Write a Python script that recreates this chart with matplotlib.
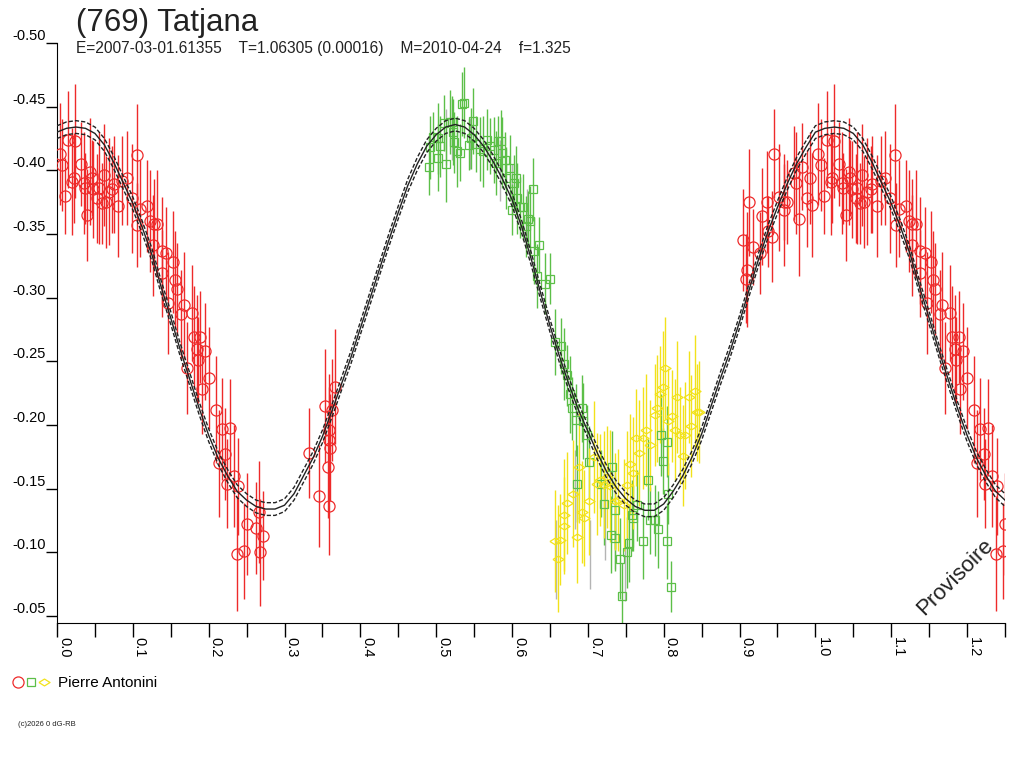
# Courbe de lumière (769) Tatjana
import numpy as np
import matplotlib
matplotlib.use('Agg')
import matplotlib.pyplot as plt
from matplotlib.ticker import MultipleLocator, FormatStrFormatter
from matplotlib.lines import Line2D
from matplotlib.legend_handler import HandlerTuple

plt.rcParams['font.family'] = ['Liberation Sans', 'DejaVu Sans']
plt.rcParams['axes.unicode_minus'] = False

TITRE = '(769) Tatjana'
SOUS_TITRE = 'E=2007-03-01.61355    T=1.06305 (0.00016)    M=2010-04-24    f=1.325'
OBSERVATEUR = 'Pierre Antonini'
COPYRIGHT = '(c)2026 0 dG-RB'
PHASE_MAX = 1.25

# Courbe ajustée (pas de 0.0125)
courbe_phase = [0.0000, 0.0125, 0.0250, 0.0375, 0.0500, 0.0625, 0.0750, 0.0875, 0.1000, 0.1125,
                0.1250, 0.1375, 0.1500, 0.1625, 0.1750, 0.1875, 0.2000, 0.2125, 0.2250, 0.2375,
                0.2500, 0.2625, 0.2750, 0.2875, 0.3000, 0.3125, 0.3250, 0.3375, 0.3500, 0.3625,
                0.3750, 0.3875, 0.4000, 0.4125, 0.4250, 0.4375, 0.4500, 0.4625, 0.4750, 0.4875,
                0.5000, 0.5125, 0.5250, 0.5375, 0.5500, 0.5625, 0.5750, 0.5875, 0.6000, 0.6125,
                0.6250, 0.6375, 0.6500, 0.6625, 0.6750, 0.6875, 0.7000, 0.7125, 0.7250, 0.7375,
                0.7500, 0.7625, 0.7750, 0.7875, 0.8000, 0.8125, 0.8250, 0.8375, 0.8500, 0.8625,
                0.8750, 0.8875, 0.9000, 0.9125, 0.9250, 0.9375, 0.9500, 0.9625, 0.9750, 0.9875,
                1.0000]
courbe_mag = [-0.430, -0.433, -0.434, -0.433, -0.429, -0.420, -0.406, -0.390, -0.374, -0.355,
              -0.334, -0.308, -0.284, -0.259, -0.236, -0.213, -0.192, -0.174, -0.160, -0.148,
              -0.141, -0.136, -0.134, -0.134, -0.137, -0.146, -0.160, -0.174, -0.191, -0.211,
              -0.232, -0.253, -0.276, -0.299, -0.322, -0.345, -0.367, -0.388, -0.405, -0.419,
              -0.428, -0.434, -0.436, -0.434, -0.428, -0.419, -0.407, -0.393, -0.377, -0.356,
              -0.331, -0.304, -0.278, -0.254, -0.232, -0.212, -0.195, -0.178, -0.163, -0.151,
              -0.142, -0.136, -0.133, -0.133, -0.138, -0.148, -0.160, -0.175, -0.193, -0.215,
              -0.237, -0.258, -0.281, -0.306, -0.330, -0.352, -0.371, -0.389, -0.405, -0.418,
              -0.430]
courbe_ecart = 0.005

# Série rouge (cercles)
rouge_phase = [0.905, 0.908, 0.910, 0.912, 0.918, 0.927, 0.930, 0.936, 0.938, 0.943, 0.946,
               0.952, 0.958, 0.958, 0.963, 0.972, 0.974, 0.979, 0.982, 0.989, 0.993, 0.996,
               0.004, 0.007, 0.011, 0.015, 0.020, 0.022, 0.024, 0.031, 0.035, 0.037, 0.040,
               0.044, 0.046, 0.048, 0.053, 0.055, 0.059, 0.062, 0.064, 0.068, 0.073, 0.075,
               0.081, 0.086, 0.092, 0.099, 0.105, 0.106, 0.110, 0.119, 0.123, 0.128, 0.132,
               0.127, 0.138, 0.144, 0.153, 0.138, 0.155, 0.158, 0.147, 0.167, 0.164, 0.178,
               0.180, 0.189, 0.184, 0.195, 0.186, 0.171, 0.200, 0.191, 0.209, 0.217, 0.228,
               0.222, 0.213, 0.233, 0.224, 0.239, 0.250, 0.238, 0.247, 0.263, 0.272, 0.268, 0.266,
               0.332, 0.345, 0.354, 0.358, 0.360, 0.357, 0.359, 0.366, 0.362, 0.358]
rouge_mag = [-0.345, -0.315, -0.322, -0.375, -0.340, -0.335, -0.364, -0.375, -0.352, -0.348, -0.413,
             -0.379, -0.375, -0.369, -0.375, -0.398, -0.390, -0.362, -0.403, -0.378, -0.394, -0.373,
             -0.413, -0.404, -0.380, -0.424, -0.391, -0.394, -0.423, -0.405, -0.390, -0.386, -0.365,
             -0.399, -0.394, -0.385, -0.378, -0.386, -0.374, -0.396, -0.375, -0.383, -0.385, -0.389,
             -0.372, -0.392, -0.394, -0.378, -0.412, -0.357, -0.370, -0.372, -0.360, -0.358, -0.358,
             -0.341, -0.337, -0.335, -0.328, -0.319, -0.314, -0.307, -0.296, -0.294, -0.287, -0.288,
             -0.269, -0.269, -0.260, -0.258, -0.251, -0.245, -0.237, -0.228, -0.212, -0.197, -0.198,
             -0.177, -0.170, -0.160, -0.154, -0.152, -0.122, -0.099, -0.101, -0.119, -0.113, -0.100, -0.132,
             -0.178, -0.144, -0.215, -0.136, -0.182, -0.167, -0.196, -0.230, -0.212, -0.188]
rouge_err = [0.040, 0.035, 0.045, 0.042, 0.030, 0.032, 0.038, 0.040, 0.028, 0.036, 0.035,
             0.042, 0.030, 0.044, 0.033, 0.037, 0.040, 0.045, 0.034, 0.038, 0.036, 0.041,
             0.040, 0.036, 0.030, 0.038, 0.042, 0.035, 0.045, 0.033, 0.040, 0.028, 0.036,
             0.042, 0.030, 0.038, 0.035, 0.044, 0.032, 0.040, 0.036, 0.042, 0.034, 0.038,
             0.040, 0.035, 0.037, 0.043, 0.040, 0.033, 0.038, 0.036, 0.040, 0.035, 0.042,
             0.040, 0.042, 0.036, 0.040, 0.034, 0.038, 0.036, 0.040, 0.042, 0.035, 0.038,
             0.040, 0.036, 0.042, 0.038, 0.034, 0.036, 0.040, 0.035, 0.042, 0.040, 0.038,
             0.036, 0.042, 0.040, 0.035, 0.038, 0.040, 0.045, 0.038, 0.036, 0.035, 0.042, 0.040,
             0.035, 0.040, 0.045, 0.038, 0.042, 0.040, 0.044, 0.045, 0.040, 0.042]

# Série verte (carrés)
vert_phase = [0.491, 0.492, 0.496, 0.503, 0.505, 0.503, 0.510, 0.513, 0.518, 0.521, 0.522,
              0.524, 0.527, 0.531, 0.534, 0.537, 0.543, 0.546, 0.549, 0.553, 0.558, 0.562,
              0.567, 0.571, 0.576, 0.579, 0.581, 0.585, 0.587, 0.591, 0.597, 0.592, 0.605,
              0.602, 0.607, 0.611, 0.600, 0.615, 0.628, 0.621, 0.624, 0.619, 0.629, 0.636,
              0.633, 0.644, 0.650,
              0.657, 0.664, 0.668, 0.672, 0.677, 0.679, 0.684, 0.692, 0.694, 0.699, 0.701,
              0.686, 0.717, 0.721, 0.732, 0.730, 0.736, 0.743, 0.751, 0.754, 0.760, 0.765,
              0.773, 0.779, 0.782, 0.789, 0.793, 0.796, 0.799, 0.804, 0.804, 0.806, 0.809,
              0.745, 0.758, 0.736]
vert_mag = [-0.403, -0.418, -0.426, -0.425, -0.419, -0.410, -0.437, -0.405, -0.438, -0.438, -0.430,
            -0.422, -0.415, -0.414, -0.452, -0.453, -0.420, -0.425, -0.439, -0.421, -0.417, -0.415,
            -0.424, -0.419, -0.416, -0.406, -0.423, -0.423, -0.414, -0.408, -0.402, -0.394, -0.394,
            -0.390, -0.378, -0.371, -0.369, -0.371, -0.385, -0.362, -0.360, -0.356, -0.337, -0.341,
            -0.317, -0.311, -0.315,
            -0.265, -0.262, -0.248, -0.239, -0.224, -0.213, -0.204, -0.213, -0.203, -0.192, -0.171,
            -0.154, -0.154, -0.138, -0.167, -0.114, -0.111, -0.095, -0.100, -0.107, -0.127, -0.137,
            -0.109, -0.157, -0.125, -0.125, -0.118, -0.192, -0.172, -0.187, -0.109, -0.146, -0.073,
            -0.066, -0.129, -0.133]
vert_err = [0.022, 0.025, 0.020, 0.028, 0.024, 0.026, 0.022, 0.030, 0.025, 0.020, 0.026,
            0.024, 0.028, 0.022, 0.025, 0.028, 0.020, 0.024, 0.026, 0.022, 0.025, 0.028,
            0.024, 0.022, 0.026, 0.025, 0.020, 0.024, 0.028, 0.022, 0.026, 0.024, 0.025,
            0.022, 0.028, 0.024, 0.020, 0.026, 0.025, 0.022, 0.028, 0.024, 0.026, 0.022,
            0.025, 0.024, 0.020,
            0.026, 0.022, 0.028, 0.024, 0.030, 0.025, 0.028, 0.026, 0.030, 0.024, 0.028,
            0.030, 0.026, 0.032, 0.028, 0.030, 0.026, 0.032, 0.028, 0.030, 0.026, 0.028,
            0.030, 0.032, 0.026, 0.028, 0.030, 0.032, 0.026, 0.028, 0.030, 0.024, 0.020,
            0.026, 0.028, 0.030]

# Série jaune (losanges)
jaune_phase = [0.657, 0.660, 0.663, 0.668, 0.669, 0.673, 0.681, 0.685, 0.688, 0.692, 0.695,
               0.701, 0.708, 0.712, 0.716, 0.721, 0.725, 0.729, 0.736, 0.740, 0.748, 0.752,
               0.755, 0.759, 0.763, 0.768, 0.773, 0.777, 0.782, 0.789, 0.791, 0.795, 0.799,
               0.802, 0.806, 0.811, 0.815, 0.817, 0.822, 0.825, 0.828, 0.833, 0.836, 0.841,
               0.844, 0.847]
jaune_mag = [-0.109, -0.095, -0.110, -0.129, -0.121, -0.139, -0.146, -0.112, -0.167, -0.132, -0.127,
             -0.140, -0.175, -0.154, -0.157, -0.153, -0.159, -0.152, -0.140, -0.141, -0.137, -0.153,
             -0.169, -0.162, -0.190, -0.178, -0.190, -0.196, -0.184, -0.208, -0.213, -0.224, -0.230,
             -0.245, -0.203, -0.207, -0.196, -0.222, -0.192, -0.176, -0.192, -0.222, -0.199, -0.227,
             -0.210, -0.210]
jaune_err = [0.040, 0.042, 0.036, 0.044, 0.038, 0.040, 0.042, 0.036, 0.044, 0.040, 0.038,
             0.042, 0.044, 0.040, 0.036, 0.042, 0.040, 0.044, 0.038, 0.040, 0.036, 0.042,
             0.040, 0.044, 0.038, 0.042, 0.040, 0.044, 0.036, 0.040, 0.042, 0.038, 0.044,
             0.040, 0.042, 0.036, 0.040, 0.044, 0.038, 0.040, 0.042, 0.036, 0.040, 0.044,
             0.038, 0.040]

# Barres grises
gris_phase = [0.513, 0.521, 0.545, 0.584, 0.600, 0.620, 0.658, 0.683, 0.703, 0.723, 0.736, 0.749]
gris_mag = [-0.426, -0.432, -0.421, -0.400, -0.385, -0.363, -0.094, -0.149, -0.098, -0.125, -0.114, -0.086]
gris_err = [0.022, 0.024, 0.020, 0.024, 0.020, 0.022, 0.031, 0.031, 0.027, 0.031, 0.027, 0.024]

# Losange aplati comme sur l'original
LOSANGE = [(-1, 0), (0, 0.62), (1, 0), (0, -0.62), (-1, 0)]


# Répète les phases sur [0, PHASE_MAX]
def replier(phase, mag, err):
    phase = np.asarray(phase)
    p = np.concatenate([phase, phase + 1])
    m = np.concatenate([mag, mag])
    e = np.concatenate([err, err])
    garde = p <= PHASE_MAX
    return p[garde], m[garde], e[garde]


def tracer(ax, phase, mag, err, couleur, marqueur, taille):
    p, m, e = replier(phase, mag, err)
    ax.errorbar(p, m, yerr=e, fmt='none', ecolor=couleur, elinewidth=1.0, capsize=0, zorder=2)
    ax.plot(p, m, ls='none', marker=marqueur, ms=taille, mfc='none', mec=couleur, mew=0.9, zorder=3)


fig = plt.figure(figsize=(10.24, 7.68), dpi=100)
ax = fig.add_axes([57 / 1024, 145 / 768, 948 / 1024, 580 / 768])

rouge = '#ee2a2a'
vert = '#5cbf48'
jaune = '#f2e21a'

p, m, e = replier(gris_phase, gris_mag, gris_err)
ax.vlines(p, m - e, m + e, color='#b4b4b4', lw=1.0, zorder=1)
tracer(ax, rouge_phase, rouge_mag, rouge_err, rouge, 'o', 8)
tracer(ax, vert_phase, vert_mag, vert_err, vert, 's', 6)
tracer(ax, jaune_phase, jaune_mag, jaune_err, jaune, LOSANGE, 8)

# Courbe ajustée et ses bornes
cp = np.concatenate([courbe_phase, np.asarray(courbe_phase[1:]) + 1])
cm = np.concatenate([courbe_mag, courbe_mag[1:]])
garde = cp <= PHASE_MAX
cp, cm = cp[garde], cm[garde]
ax.plot(cp, cm, color='#222222', lw=1.0, zorder=4)
ax.plot(cp, cm - courbe_ecart, color='#222222', lw=1.0, ls=(0, (3, 1.5)), zorder=4)
ax.plot(cp, cm + courbe_ecart, color='#222222', lw=1.0, ls=(0, (3, 1.5)), zorder=4)

ax.set_xlim(0, PHASE_MAX)
ax.set_ylim(-0.0445, -0.50)

for cote in ('top', 'right'):
    ax.spines[cote].set_visible(False)
ax.spines['left'].set_bounds(-0.50, -0.0445)

ax.xaxis.set_major_locator(MultipleLocator(0.1))
ax.xaxis.set_minor_locator(MultipleLocator(0.05))
ax.xaxis.set_major_formatter(FormatStrFormatter('%.1f'))
ax.yaxis.set_major_formatter(FormatStrFormatter('%.2f'))
ax.set_yticks(np.arange(-0.50, -0.049, 0.05))

ax.tick_params(axis='x', which='both', direction='out', length=10, width=1, pad=0, labelsize=10.5)
ax.tick_params(axis='y', direction='out', length=8, width=1, pad=0, labelsize=10.5)
for lab in ax.get_xticklabels():
    lab.set_rotation(270)
    lab.set_ha('left')
    lab.set_va('top')
for lab in ax.get_yticklabels():
    lab.set_va('bottom')

fig.text(76 / 1024, 1 - 31 / 768, TITRE, fontsize=22.5, va='baseline', ha='left', color='#222222')
fig.text(76 / 1024, 1 - 53 / 768, SOUS_TITRE, fontsize=11.2, va='baseline', ha='left', color='#222222')
fig.text(955 / 1024, 1 - 577 / 768, 'Provisoire', fontsize=16, rotation=45,
         ha='center', va='center', color='#222222')
fig.text(18 / 1024, 1 - 725 / 768, COPYRIGHT, fontsize=5.5, va='center', ha='left', color='#222222')

h1 = Line2D([], [], ls='none', marker='o', ms=8, mfc='none', mec=rouge, mew=0.9)
h2 = Line2D([], [], ls='none', marker='s', ms=6, mfc='none', mec=vert, mew=0.9)
h3 = Line2D([], [], ls='none', marker=LOSANGE, ms=8, mfc='none', mec=jaune, mew=0.9)
fig.legend(handles=[(h1, h2, h3)], labels=[OBSERVATEUR],
           handler_map={tuple: HandlerTuple(ndivide=None, pad=0)},
           loc='center left', bbox_to_anchor=(12 / 1024, 1 - 683 / 768),
           frameon=False, fontsize=11, handlelength=2.5, handletextpad=0.5,
           borderaxespad=0, borderpad=0)

fig.savefig('out.png', dpi=100)
